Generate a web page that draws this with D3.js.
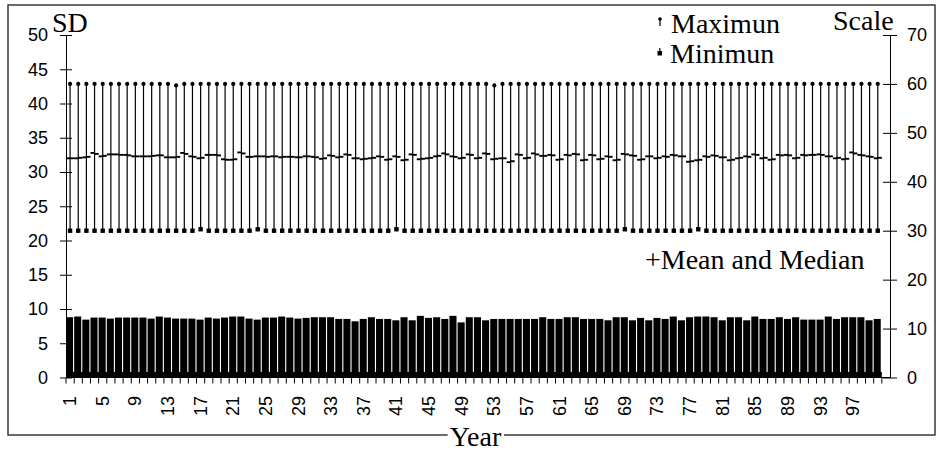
<!DOCTYPE html>
<html><head><meta charset="utf-8">
<script src="https://cdn.jsdelivr.net/npm/d3@7"></script>
<style>body{margin:0;background:#fff}svg{display:block}</style>
</head><body><svg id="c" width="938" height="453"></svg>
<script>
const years = d3.range(1, 101);
const sdValues = [
 8.8,8.9,8.45,8.75,8.75,8.6,8.75,8.75,8.75,8.75,
 8.6,8.9,8.75,8.6,8.6,8.6,8.45,8.75,8.6,8.75,
 8.9,8.9,8.6,8.45,8.75,8.75,8.9,8.75,8.6,8.7,
 8.8,8.8,8.8,8.55,8.55,8.2,8.55,8.8,8.55,8.55,
 8.35,8.8,8.35,9.0,8.7,8.8,8.55,9.0,8.05,8.8,
 8.8,8.35,8.55,8.55,8.55,8.55,8.55,8.55,8.8,8.55,
 8.55,8.8,8.8,8.55,8.55,8.55,8.35,8.8,8.8,8.35,
 8.7,8.35,8.7,8.55,8.9,8.35,8.8,8.9,8.9,8.8,
 8.35,8.8,8.8,8.35,8.9,8.55,8.55,8.8,8.55,8.8,
 8.45,8.45,8.45,8.9,8.55,8.8,8.8,8.8,8.35,8.55];
const maxValues = [
 60,60,60,60,60,60,60,60,60,60,
 60,60,60,59.7,60,60,60,60,60,60,
 60,60,60,60,60,60,60,60,60,60,
 60,60,60,60,60,60,60,60,60,60,
 60,60,60,60,60,60,60,60,60,60,
 60,60,59.7,60,60,60,60,60,60,60,
 60,60,60,60,60,60,60,60,60,60,
 60,60,60,60,60,60,60,60,60,60,
 60,60,60,60,60,60,60,60,60,60,
 60,60,60,60,60,60,60,60,60,60];
const minValues = [
 30,30,30,30,30,30,30,30,30,30,
 30,30,30,30,30,30,30.3,30,30,30,
 30,30,30,30.3,30,30,30,30,30,30,
 30,30,30,30,30,30,30,30,30,30,
 30.3,30,30,30,30,30,30,30,30,30,
 30,30,30,30,30,30,30,30,30,30,
 30,30,30,30,30,30,30,30,30.3,30,
 30,30,30,30,30,30,30,30.3,30,30,
 30,30,30,30,30,30,30,30,30,30,
 30,30,30,30,30,30,30,30,30,30];
const meanValues = [
 44.8,44.8,45.0,45.9,45.2,45.6,45.6,45.5,45.2,45.2,
 45.2,45.4,45.0,45.0,45.9,45.2,44.8,45.5,45.5,44.6,
 44.5,46.0,45.1,45.2,45.2,45.2,45.0,45.1,45.0,45.2,
 45.1,44.7,45.4,45.0,45.6,44.8,44.6,44.8,45.2,44.5,
 45.2,44.4,45.6,44.6,44.8,45.2,45.8,45.2,44.8,45.6,
 44.8,45.8,44.6,44.8,44.0,45.6,44.8,45.8,45.3,45.5,
 44.5,45.5,45.7,44.4,45.5,44.6,45.2,44.4,45.7,45.4,
 44.5,45.2,44.8,45.2,45.5,45.2,44.1,44.4,45.2,45.4,
 45.0,44.4,44.8,45.2,45.6,44.8,44.5,45.5,45.5,44.8,
 45.5,45.5,45.6,45.2,44.8,44.6,46.0,45.5,45.2,44.8];
const medianValues = [
 44.8,44.9,45.1,45.7,45.3,45.6,45.5,45.4,45.2,45.2,
 45.3,45.4,45.0,45.1,45.7,45.1,44.9,45.5,45.4,44.5,
 44.6,45.8,45.1,45.2,45.1,45.2,45.1,45.1,45.0,45.2,
 45.0,44.8,45.3,45.1,45.5,44.8,44.7,44.9,45.1,44.6,
 45.1,44.5,45.5,44.7,44.9,45.3,45.6,45.1,44.9,45.5,
 44.9,45.7,44.7,44.8,44.2,45.5,44.9,45.6,45.3,45.4,
 44.6,45.4,45.6,44.5,45.4,44.7,45.1,44.5,45.6,45.3,
 44.6,45.2,44.9,45.1,45.4,45.2,44.2,44.5,45.1,45.3,
 45.0,44.5,44.9,45.1,45.5,44.9,44.6,45.4,45.4,44.9,
 45.4,45.5,45.5,45.2,44.9,44.7,45.8,45.4,45.1,44.9];
const leftTicks = [0,5,10,15,20,25,30,35,40,45,50];
const rightTicks = [0,10,20,30,40,50,60,70];
const xTickLabels = [1,5,9,13,17,21,25,29,33,37,41,45,49,53,57,61,65,69,73,77,81,85,89,93,97];
const baseLevel = 0.8;

const serif = "'Liberation Serif','Times New Roman',serif";
const sans = "'Liberation Sans',Arial,sans-serif";
const svg = d3.select('#c');
const L = 66, R = 890, T = 35, B = 377.5;
const bw = (R - L) / 101;
const x = d3.scaleBand().domain(years).range([L, L + 100 * bw]).padding(0);
const yL = d3.scaleLinear().domain([0, 50]).range([B, T]);
const yR = d3.scaleLinear().domain([0, 70]).range([B, T]);

// outer border
svg.append('rect').attr('x', 8).attr('y', 5).attr('width', 927).attr('height', 430)
  .attr('fill', 'none').attr('stroke', '#3a3a3a').attr('stroke-width', 1.5);

// bars
svg.append('g').selectAll('rect').data(years).join('rect')
  .attr('x', d => x(d)).attr('width', bw - 1.1)
  .attr('y', (d, i) => yL(sdValues[i])).attr('height', (d, i) => B - yL(sdValues[i]))
  .attr('fill', '#000');
svg.append('rect').attr('x', x(1)).attr('width', 100 * bw)
  .attr('y', yL(baseLevel)).attr('height', B - yL(baseLevel)).attr('fill', '#000');

// left axis
const gl = svg.append('g').attr('transform', `translate(${L},0)`)
  .call(d3.axisLeft(yL).tickValues(leftTicks).tickSizeInner(6).tickSizeOuter(0).tickPadding(12));
gl.selectAll('.tick line').attr('x1', 6).attr('stroke', '#000');
gl.select('.domain').attr('stroke', '#000');
gl.selectAll('.tick text').attr('font-family', sans).attr('font-size', 18).attr('fill', '#000');

// right axis
const gr = svg.append('g').attr('transform', `translate(${R},0)`)
  .call(d3.axisRight(yR).tickValues(rightTicks).tickSizeInner(7).tickSizeOuter(0).tickPadding(10));
gr.selectAll('.tick line').attr('x1', -7).attr('stroke', '#000');
gr.select('.domain').attr('stroke', '#000');
gr.selectAll('.tick text').attr('font-family', sans).attr('font-size', 18).attr('fill', '#000');

// x axis
svg.append('line').attr('x1', L).attr('x2', R).attr('y1', B).attr('y2', B).attr('stroke', '#000');
const bounds = years.map(d => x(d)).concat([x(100) + bw]);
svg.append('g').selectAll('line').data(bounds).join('line')
  .attr('x1', d => d).attr('x2', d => d).attr('y1', B).attr('y2', B + 6)
  .attr('stroke', '#000');
svg.append('g').selectAll('text').data(xTickLabels).join('text')
  .attr('transform', d => `translate(${x(d) + bw / 2},396) rotate(-90)`)
  .attr('text-anchor', 'end').attr('dominant-baseline', 'central')
  .attr('font-family', sans).attr('font-size', 18).attr('fill', '#000')
  .text(d => d);

// high-low lines
const gs = svg.append('g');
gs.selectAll('line.hl').data(years).join('line').attr('class', 'hl')
  .attr('x1', d => x(d) + bw / 2).attr('x2', d => x(d) + bw / 2)
  .attr('y1', (d, i) => yR(minValues[i])).attr('y2', (d, i) => yR(maxValues[i]))
  .attr('stroke', '#000').attr('stroke-width', 1.2);
gs.selectAll('line.mean').data(years).join('line').attr('class', 'mean')
  .attr('x1', d => x(d)).attr('x2', d => x(d) + bw / 2)
  .attr('y1', (d, i) => yR(meanValues[i])).attr('y2', (d, i) => yR(meanValues[i]))
  .attr('stroke', '#000').attr('stroke-width', 1.9);
gs.selectAll('line.med').data(years).join('line').attr('class', 'med')
  .attr('x1', d => x(d) + bw / 2).attr('x2', d => x(d) + bw)
  .attr('y1', (d, i) => yR(medianValues[i])).attr('y2', (d, i) => yR(medianValues[i]))
  .attr('stroke', '#000').attr('stroke-width', 1.9);
gs.selectAll('circle').data(years).join('circle')
  .attr('cx', d => x(d) + bw / 2).attr('cy', (d, i) => yR(maxValues[i])).attr('r', 2.1)
  .attr('fill', '#000');
gs.selectAll('rect').data(years).join('rect')
  .attr('x', d => x(d) + bw / 2 - 2.2).attr('y', (d, i) => yR(minValues[i]) - 2.2)
  .attr('width', 4.4).attr('height', 4.4).attr('fill', '#000');

// titles
function txt(s, xx, yy, anchor) {
  return svg.append('text').attr('x', xx).attr('y', yy).attr('text-anchor', anchor || 'start')
    .attr('font-family', serif).attr('font-size', 28).attr('fill', '#000').text(s);
}
txt('SD', 52, 32);
txt('Scale', 833, 30);
txt('Maximun', 671, 33);
txt('Minimun', 670, 63);
txt('+Mean and Median', 645, 269);
// legend markers
svg.append('circle').attr('cx', 660).attr('cy', 19).attr('r', 1.8).attr('fill', '#000');
svg.append('line').attr('x1', 660).attr('x2', 660).attr('y1', 19).attr('y2', 26).attr('stroke', '#000').attr('stroke-width', 1.2);
svg.append('rect').attr('x', 657.5).attr('y', 51).attr('width', 4.5).attr('height', 4.5).attr('fill', '#000');
svg.append('line').attr('x1', 659.8).attr('x2', 659.8).attr('y1', 48).attr('y2', 52).attr('stroke', '#000').attr('stroke-width', 1.2);

// Year label on the bottom border
const yearText = txt('Year', 475.5, 446, 'middle');
const bb = yearText.node().getBBox();
svg.insert('rect', () => yearText.node()).attr('x', bb.x - 2).attr('y', 432).attr('width', bb.width + 4).attr('height', 6).attr('fill', '#fff');
</script>
</body></html>
